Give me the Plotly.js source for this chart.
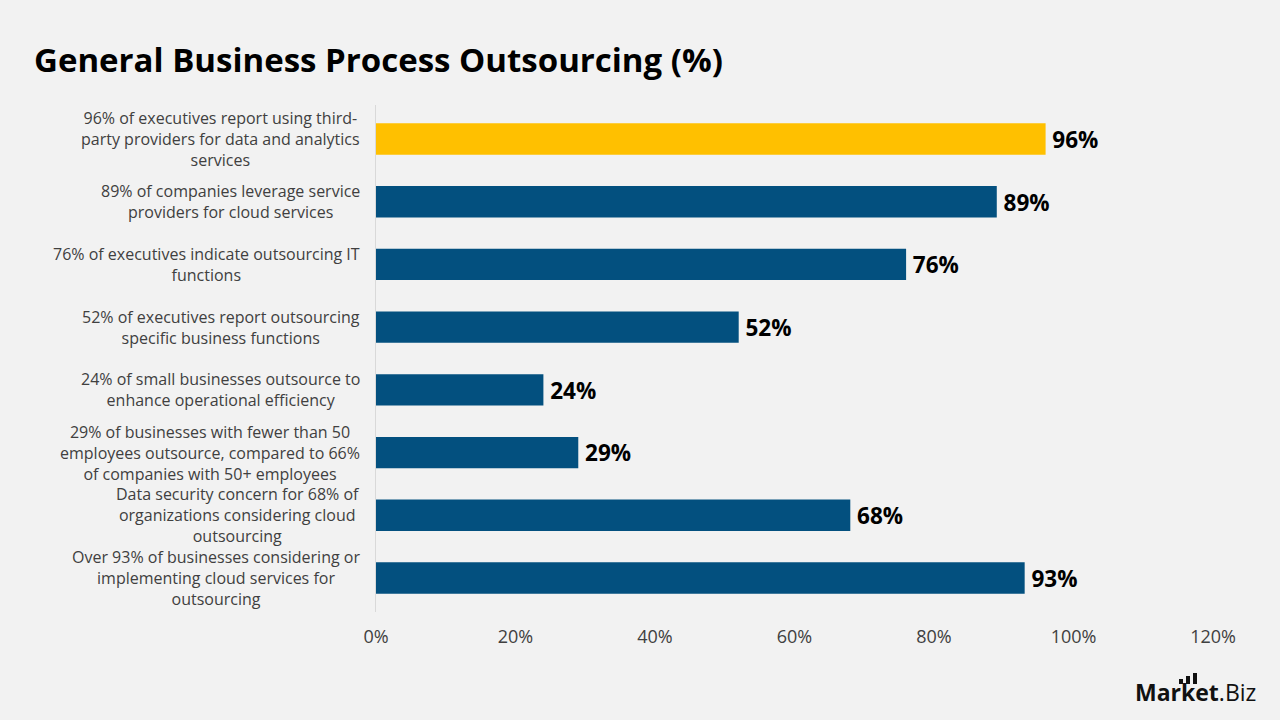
<!DOCTYPE html>
<html>
<head>
<meta charset="utf-8">
<script src="https://cdn.plot.ly/plotly-3.0.1.min.js"></script>
<style>html,body{margin:0;padding:0;background:#f2f2f2;}#chart{width:1280px;height:720px;}</style>
</head>
<body>
<div id="chart"></div>
<script>
const categories = [
  "96% of executives report using third-<br>party providers for data and analytics<br>services",
  "89% of companies leverage service<br>providers for cloud services",
  "76% of executives indicate outsourcing IT<br>functions",
  "52% of executives report outsourcing<br>specific business functions",
  "24% of small businesses outsource to<br>enhance operational efficiency",
  "29% of businesses with fewer than 50<br>employees outsource, compared to 66%<br>of companies with 50+ employees",
  "Data security concern for 68% of<br>organizations considering cloud<br>outsourcing",
  "Over 93% of businesses considering or<br>implementing cloud services for<br>outsourcing"
];
const values = [96, 89, 76, 52, 24, 29, 68, 93];
const tickVals = [0, 20, 40, 60, 80, 100, 120];
const tickText = ["0%", "20%", "40%", "60%", "80%", "100%", "120%"];
const barColors = ["#FFC000", "#03507F", "#03507F", "#03507F", "#03507F", "#03507F", "#03507F", "#03507F"];

const ids = categories.map((c, i) => "c" + i);

// plot area in pixels (for decorative logo placement only)
const L = 376, R = 1213, T = 105, B = 612;
const px = x => (x - L) / (R - L);
const py = y => (B - y) / (B - T);

const trace = {
  type: "bar",
  orientation: "h",
  y: ids,
  x: values,
  width: 0.5,
  marker: {color: barColors},
  text: values.map(v => "\u2009" + v + "%"),
  textposition: "outside",
  cliponaxis: false,
  textfont: {family: "Open Sans, sans-serif", size: 23, color: "#000000", weight: 700},
  hoverinfo: "skip"
};

const annotations = categories.map((c, i) => ({
  xref: "paper", yref: "y", x: 0, y: ids[i],
  xanchor: "right", yanchor: "middle", xshift: -14,
  align: "center", showarrow: false,
  text: c,
  font: {family: "Open Sans, sans-serif", size: 16, color: "#404040"}
}));

annotations.push({
  xref: "paper", yref: "paper", x: px(1258), y: py(692),
  xanchor: "right", yanchor: "middle", showarrow: false,
  text: "<b>Market</b>.Biz",
  font: {family: "Open Sans, sans-serif", size: 23, color: "#111111"}
});

const logoBars = [[1179, 1183, 679], [1186, 1190, 676], [1193, 1197, 673]];
const shapes = logoBars.map(b => ({
  type: "rect", xref: "paper", yref: "paper",
  x0: px(b[0]), x1: px(b[1]), y0: py(684), y1: py(b[2]),
  fillcolor: "#111111", line: {width: 0}
}));

const layout = {
  width: 1280, height: 720,
  paper_bgcolor: "#f2f2f2", plot_bgcolor: "#f2f2f2",
  margin: {l: L, r: 1280 - R, t: T, b: 720 - B, autoexpand: false},
  title: {
    text: "<b>General Business Process Outsourcing (%)</b>",
    x: 34/1280, xref: "container", xanchor: "left",
    y: 1 - 60/720, yref: "container", yanchor: "middle",
    font: {family: "Open Sans, sans-serif", size: 33, color: "#000000"}
  },
  showlegend: false,
  xaxis: {
    range: [0, 120], tickvals: tickVals, ticktext: tickText,
    showgrid: false, zeroline: false, showline: false, ticks: "",
    ticklabelstandoff: 12, automargin: false,
    tickfont: {family: "Open Sans, sans-serif", size: 18, color: "#404040"},
    fixedrange: true
  },
  yaxis: {
    autorange: "reversed", showticklabels: false, ticks: "",
    showline: true, linecolor: "#d9d9d9", linewidth: 1, automargin: false,
    showgrid: false, zeroline: false, fixedrange: true
  },
  annotations: annotations,
  shapes: shapes
};

Plotly.newPlot("chart", [trace], layout, {displayModeBar: false, staticPlot: true});
</script>
</body>
</html>
